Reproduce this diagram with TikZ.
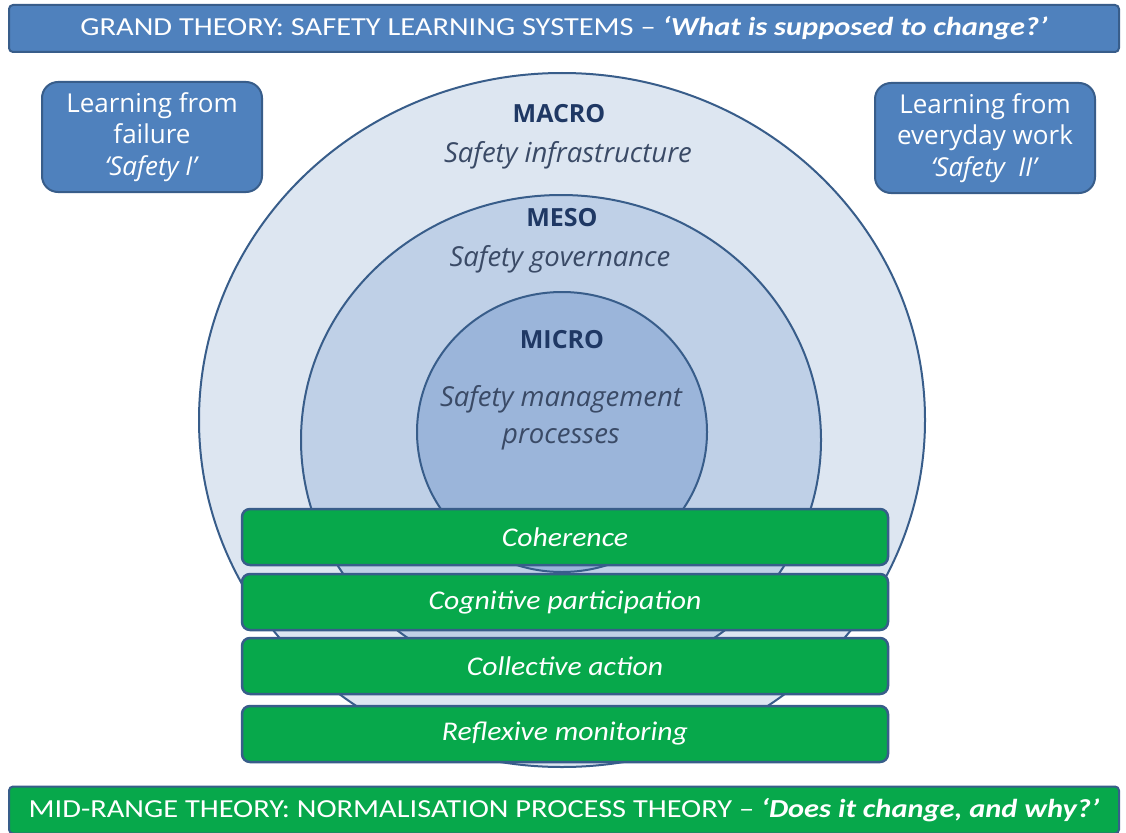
\documentclass[tikz,border=0pt]{standalone}
\usepackage{fontspec}
\setmainfont{Carlito}
\newfontfamily\opensans{Open Sans}
\usetikzlibrary{shapes.geometric}

\definecolor{barblue}{HTML}{4F81BD}
\definecolor{edgeblue}{HTML}{385D8A}
\definecolor{macrofill}{HTML}{DDE6F1}
\definecolor{mesofill}{HTML}{BFD0E7}
\definecolor{microfill}{HTML}{9BB5DA}
\definecolor{npgreen}{HTML}{07A84B}
\definecolor{labelblue}{HTML}{1F3864}
\definecolor{textgrey}{HTML}{3A4A66}

% widen a line of banner text
\newcommand{\widetext}[1]{\scalebox{1.17}[1]{#1}}

\begin{document}
\begin{tikzpicture}[x=1pt, y=-1pt,
  banner/.style = {draw=edgeblue, line width=2pt, rounded corners=4pt, minimum width=1110pt, minimum height=47pt, inner sep=0pt, text=white, font=\fontsize{26}{30}\selectfont},
  sidebox/.style = {draw=edgeblue, line width=2pt, fill=barblue, rounded corners=16pt, minimum width=220pt, minimum height=110pt, align=center, text=white, font=\opensans\fontsize{26}{31.5}\selectfont},
  ring/.style = {ellipse, draw=edgeblue, line width=2pt, inner sep=0pt},
  npbar/.style = {draw=edgeblue, line width=2.5pt, fill=npgreen, rounded corners=8pt, minimum width=646pt, minimum height=56pt, text=white, font=\itshape\fontsize{27}{30}\selectfont},
  tier/.style = {text=labelblue, font=\opensans\bfseries\fontsize{25}{28}\selectfont},
  tiertext/.style = {text=textgrey, font=\opensans\itshape\fontsize{27.5}{37}\selectfont}
]
  \useasboundingbox[fill=white] (0,0) rectangle (1126,832);

  % the three nested levels
  \node[ring, fill=macrofill, minimum width=726pt, minimum height=694pt] (macro) at (562,420) {};
  \node[ring, fill=mesofill, minimum width=520pt, minimum height=490pt] (meso) at (561,440) {};
  \node[ring, fill=microfill, minimum width=290pt, minimum height=280pt] (micro) at (562,432) {};

  \node[tier] (macrotitle) at (559,114) {MACRO};
  \node[tiertext] (macrotext) at (568,155) {Safety infrastructure};
  \node[tier] (mesotitle) at (562,218) {MESO};
  \node[tiertext] (mesotext) at (560,259) {Safety governance};
  \node[tier] (microtitle) at (562,340) {MICRO};
  \node[tiertext, align=center] (microtext) at (561,418) {Safety management\\processes};

  % corner boxes
  \node[sidebox] (failure) at (152,137) {Learning from\\failure\\\textit{‘Safety I’}};
  \node[sidebox] (everyday) at (985,138) {Learning from\\everyday work\\\textit{‘Safety\ \ II’}};

  % NPT constructs
  \node[npbar] (coherence) at (565,537) {\scalebox{1.1}[1]{Coherence}};
  \node[npbar] (cognitive) at (565,602) {\scalebox{1.1}[1]{Cognitive participation}};
  \node[npbar] (collective) at (565,666) {\scalebox{1.1}[1]{Collective action}};
  \node[npbar] (reflexive) at (565,734) {\scalebox{1.1}[1]{Reflexive monitoring}};

  % theory banners
  \node[banner, fill=barblue] (grand) at (564,28.5)
    {\widetext{GRAND THEORY: SAFETY LEARNING SYSTEMS – \textbf{\textit{‘What is supposed to change?’}}}};
  \node[banner, fill=npgreen] (midrange) at (564,810)
    {\widetext{MID-RANGE THEORY: NORMALISATION PROCESS THEORY – \textbf{\textit{‘Does it change, and why?’}}}};
\end{tikzpicture}
\end{document}
